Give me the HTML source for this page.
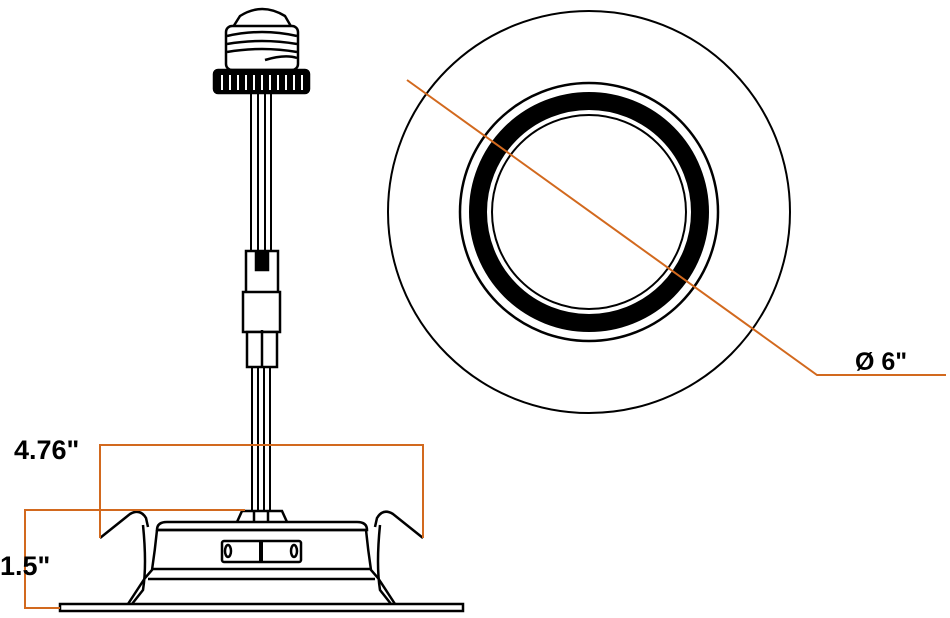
<!DOCTYPE html>
<html><head><meta charset="utf-8"><style>
html,body{margin:0;padding:0;background:#fff;}
svg{display:block}
text{font-family:"Liberation Sans",Arial,sans-serif;font-weight:bold;fill:#000}
</style></head><body>
<svg width="950" height="618" viewBox="0 0 950 618" xmlns="http://www.w3.org/2000/svg">
<g fill="none" stroke="#000">
<circle cx="589" cy="212" r="201" stroke-width="2"/>
<circle cx="589" cy="212" r="129" stroke-width="2.5"/>
<circle cx="589" cy="212" r="111" stroke-width="18"/>
<circle cx="589" cy="212" r="97" stroke-width="2"/>
</g>
<polyline points="407,80 817,375 946,375" fill="none" stroke="#d2691e" stroke-width="2"/>
<text x="855" y="370" font-size="25">Ø 6"</text>

<g fill="none" stroke="#000" stroke-width="2.5">
<path d="M240,16 Q262,2 285,16 L296,35 L228,35 Z" fill="#fff"/>
<rect x="226" y="26" width="72" height="44" rx="6" fill="#fff"/>
<path d="M227,36 Q262,28 297,36 M227,44 Q262,38 297,44 M227,52 Q262,46 297,52 M265,60 Q285,54 297,58"/>
<rect x="214" y="70" width="95" height="23" rx="4" fill="#000"/>
</g>
<g stroke="#fff" stroke-width="2">
<line x1="222" y1="75" x2="222" y2="90"/><line x1="230" y1="75" x2="230" y2="90"/><line x1="238" y1="75" x2="238" y2="90"/><line x1="246" y1="75" x2="246" y2="90"/><line x1="254" y1="75" x2="254" y2="90"/><line x1="262" y1="75" x2="262" y2="90"/><line x1="270" y1="75" x2="270" y2="90"/><line x1="278" y1="75" x2="278" y2="90"/><line x1="286" y1="75" x2="286" y2="90"/><line x1="294" y1="75" x2="294" y2="90"/><line x1="302" y1="75" x2="302" y2="90"/>
</g>
<g stroke="#000" stroke-width="2" fill="none">
<line x1="251" y1="93" x2="251" y2="250"/><line x1="258" y1="93" x2="258" y2="250"/><line x1="265" y1="93" x2="265" y2="250"/><line x1="271" y1="93" x2="271" y2="250"/>
<line x1="252" y1="365" x2="252" y2="512"/><line x1="258" y1="365" x2="258" y2="512"/><line x1="264" y1="365" x2="264" y2="512"/><line x1="270" y1="365" x2="270" y2="512"/>
</g>
<g stroke="#000" stroke-width="2.5" fill="#fff">
<rect x="246" y="251" width="32" height="42"/>
<rect x="256" y="252" width="12" height="18" fill="#000"/>
<rect x="243" y="292" width="37" height="40"/>
<rect x="247" y="332" width="30" height="35"/>
<line x1="262" y1="330" x2="262" y2="367"/>
</g>
<g stroke="#000" stroke-width="2.5" fill="none">
<rect x="60" y="604" width="403" height="7" fill="#fff"/>
<path d="M128,604 L145,578 L152,570 Q155,550 157,530" />
<path d="M395,604 L378,578 L371,570 Q368,550 366,530" />
<path d="M143,525 Q147,565 143,590 L132,604 M380,525 Q376,565 380,590 L391,604"/>
<path d="M157,530 Q157,522 167,522 L357,522 Q367,522 367,530 Z" fill="#fff"/>
<line x1="152" y1="569" x2="371" y2="569"/><line x1="148" y1="579" x2="375" y2="579"/>
<line x1="157" y1="530" x2="367" y2="530"/>
<path d="M100,538 L130,514 Q140,508 146,518 L148,527"/>
<path d="M423,538 L393,514 Q383,508 377,518 L375,527"/>
<path d="M237,522 L242,511 L282,511 L287,522"/>
<line x1="254" y1="511" x2="254" y2="522"/><line x1="268" y1="511" x2="268" y2="522"/>
<rect x="222" y="541" width="79" height="21" rx="2"/>
<line x1="261" y1="541" x2="261" y2="562" stroke-width="4"/>
<ellipse cx="228" cy="551" rx="3" ry="6"/><ellipse cx="294" cy="551" rx="3" ry="6"/>
</g>
<g stroke="#d2691e" stroke-width="2" fill="none">
<polyline points="100,538 100,445 423,445 423,538"/>
<polyline points="245,510 25,510 25,608 60,608"/>
</g>
<text x="14" y="459" font-size="27">4.76"</text>
<text x="0" y="575" font-size="27">1.5"</text>
</svg>
</body></html>
